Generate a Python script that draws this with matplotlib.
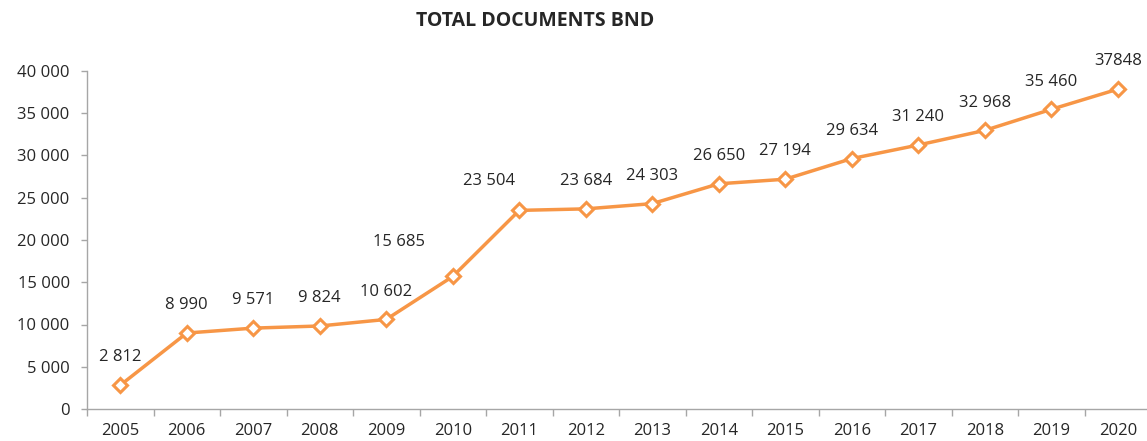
import matplotlib.pyplot as plt
from matplotlib.ticker import FuncFormatter, FixedLocator, NullFormatter

years = ["2005", "2006", "2007", "2008", "2009", "2010", "2011", "2012",
         "2013", "2014", "2015", "2016", "2017", "2018", "2019", "2020"]
documents = [2812, 8990, 9571, 9824, 10602, 15685, 23504, 23684,
             24303, 26650, 27194, 29634, 31240, 32968, 35460, 37848]
point_labels = ["2 812", "8 990", "9 571", "9 824", "10 602", "15 685", "23 504", "23 684",
                "24 303", "26 650", "27 194", "29 634", "31 240", "32 968", "35 460", "37848"]

plt.rcParams['font.family'] = ['Open Sans', 'DejaVu Sans']

orange = '#F79646'
text_col = '#262626'
axis_col = '#A6A6A6'

fig = plt.figure(figsize=(11.47, 4.41), dpi=100)
ax = fig.add_axes([87 / 1147, 32 / 441, 1064 / 1147, 338 / 441])

x = list(range(len(years)))
ax.plot(x, documents, color=orange, linewidth=2.5, marker='D', markersize=7.5,
        markerfacecolor='white', markeredgecolor=orange, markeredgewidth=2.2, zorder=3)

# labels were nudged by hand in the original for 2010 and 2011
offsets = {5: (-39, 25), 6: (-22, 21)}
for i, lab in enumerate(point_labels):
    dx, dy = offsets.get(i, (0, 20))
    ax.annotate(lab, (x[i], documents[i]), xytext=(dx, dy), textcoords='offset points',
                ha='center', va='center', fontsize=12, color=text_col)

ax.set_xlim(-0.5, len(years) - 0.5)
ax.set_ylim(0, 40000)
ax.set_yticks(range(0, 40001, 5000))
ax.yaxis.set_major_formatter(FuncFormatter(lambda v, p: f"{int(v):,}".replace(",", " ")))

ax.set_xticks(x)
ax.set_xticklabels(years)
ax.xaxis.set_minor_locator(FixedLocator([i - 0.5 for i in range(len(years) + 1)]))
ax.xaxis.set_minor_formatter(NullFormatter())
ax.tick_params(axis='x', which='major', length=0, pad=10, labelsize=12, labelcolor=text_col)
ax.tick_params(axis='x', which='minor', length=5, width=1, color=axis_col)
ax.tick_params(axis='y', length=4.5, width=1, color=axis_col, pad=8, labelsize=12, labelcolor=text_col)

for side in ['top', 'right']:
    ax.spines[side].set_visible(False)
for side in ['left', 'bottom']:
    ax.spines[side].set_color(axis_col)
    ax.spines[side].set_linewidth(1)

fig.text(535 / 1147, 1 - 21 / 441, "TOTAL DOCUMENTS BND", ha='center', va='center',
         fontsize=14, fontweight='bold', color=text_col)

fig.savefig("out.png", dpi=100)
